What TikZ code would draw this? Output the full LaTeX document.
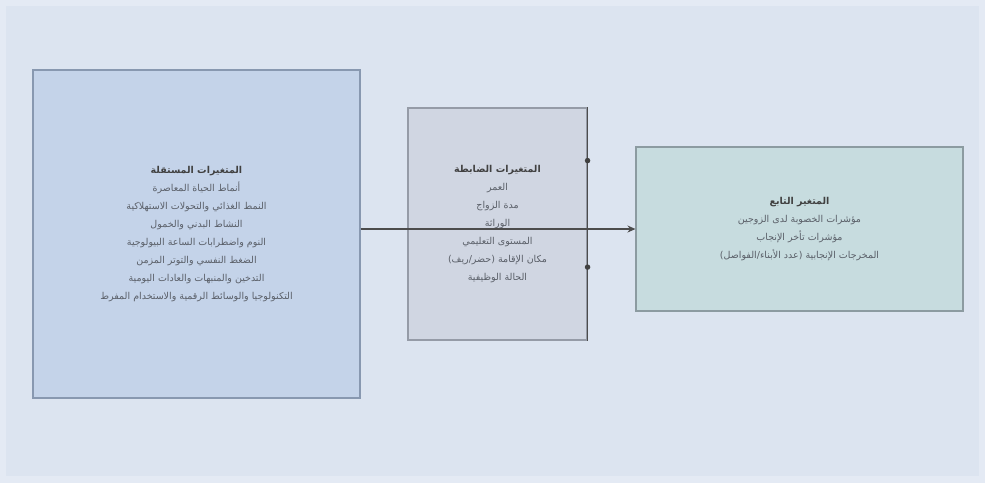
\documentclass[tikz,border=0pt]{standalone}
\usepackage{fontspec}
\newfontfamily\arabicfont[Script=Arabic]{DejaVu Sans}
\TeXXeTstate=1
\usepackage{tikz}
\usetikzlibrary{arrows.meta,positioning,calc}
\definecolor{bgpage}{HTML}{E4EAF4}
\definecolor{bgin}{HTML}{DCE4F0}
\definecolor{indfill}{HTML}{C4D3E9}
\definecolor{indline}{HTML}{8898B0}
\definecolor{ctlfill}{HTML}{D0D6E2}
\definecolor{ctlline}{HTML}{959BA7}
\definecolor{depfill}{HTML}{C7DCDF}
\definecolor{depline}{HTML}{8C9BA1}
\definecolor{txt}{HTML}{5A5F68}
\newcommand{\ar}[1]{{\arabicfont\beginR #1\endR}}
\newcommand{\arb}[1]{{\arabicfont\bfseries\color{black!75}\beginR #1\endR}}
\tikzset{
    varbox/.style={draw, line width=1.1pt, inner sep=0pt, align=center, text=txt,
        font=\fontsize{9.5}{18}\selectfont},
    flow/.style={-{Stealth[length=8pt, width=7pt]}, line width=1.4pt, black!70},
    edge/.style={line width=1.4pt, black!70},
    dot/.style={circle, fill=black!75, inner sep=0pt, minimum size=5.5pt}
}

\begin{document}
\begin{tikzpicture}[x=1pt, y=-1pt]
    \fill[bgpage] (0,0) rectangle (985,483);
    \fill[bgin] (6,6) rectangle (979,476);
    \useasboundingbox (0,0) rectangle (985,483);

    \node[varbox, fill=indfill, draw=indline, minimum width=327pt, minimum height=328pt] (ind) at (196.5,234)
        {\arb{المتغيرات المستقلة}\\
         \ar{أنماط الحياة المعاصرة}\\
         \ar{النمط الغذائي والتحولات الاستهلاكية}\\
         \ar{النشاط البدني والخمول}\\
         \ar{النوم واضطرابات الساعة البيولوجية}\\
         \ar{الضغط النفسي والتوتر المزمن}\\
         \ar{التدخين والمنبهات والعادات اليومية}\\
         \ar{التكنولوجيا والوسائط الرقمية والاستخدام المفرط}};
    \node[varbox, fill=ctlfill, draw=ctlline, minimum width=179pt, minimum height=232pt] (ctl) at (497.5,224)
        {\arb{المتغيرات الضابطة}\\
         \ar{العمر}\\
         \ar{مدة الزواج}\\
         \ar{الوراثة}\\
         \ar{المستوى التعليمي}\\
         \ar{مكان الإقامة (حضر/ريف)}\\
         \ar{الحالة الوظيفية}};
    \node[varbox, fill=depfill, draw=depline, minimum width=327pt, minimum height=164pt] (dep) at (799.5,229)
        {\arb{المتغير التابع}\\
         \ar{مؤشرات الخصوبة لدى الزوجين}\\
         \ar{مؤشرات تأخر الإنجاب}\\
         \ar{المخرجات الإنجابية (عدد الأبناء/الفواصل)}};

    % right edge of the control box
    \draw[edge] (ctl.north east) -- (ctl.south east);
    \node[dot] (d1) at ($(ctl.north east)!0.228!(ctl.south east)$) {};
    \node[dot] (d2) at ($(ctl.north east)!0.685!(ctl.south east)$) {};

    \draw[flow] (ind.east |- dep.west) -- (dep.west);
\end{tikzpicture}
\end{document}
